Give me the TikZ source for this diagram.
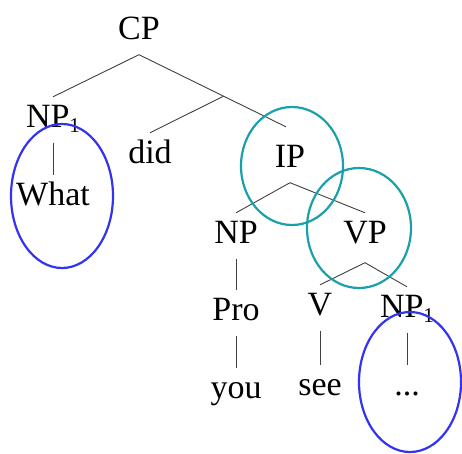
\documentclass[tikz,border=0pt]{standalone}
\usepackage{fontspec}
\setmainfont{Liberation Serif}
\definecolor{ringblue}{RGB}{51,51,240}
\definecolor{ringteal}{RGB}{26,160,170}
\tikzset{
  treenode/.style={anchor=base, inner sep=7pt, text height=23pt, text depth=8.5pt,
    font=\fontsize{34}{40}\selectfont},
  branch/.style={draw=black!75, line width=0.9pt},
  ring/.style={line width=2.2pt}
}
\newcommand{\subone}{\raisebox{-5pt}{\fontsize{21}{21}\selectfont 1}}

\begin{document}
\begin{tikzpicture}[x=1pt, y=-1pt]
\useasboundingbox (0,0) rectangle (462,453);
% Nodes of the tree
\node[treenode] (cp) at (139,39) {CP};
\node[treenode] (np1) at (53,127) {NP\subone};
\node[treenode] (what) at (53,205) {What};
\node[treenode] (did) at (150,163) {did};
\node[treenode] (ip) at (290,167) {IP};
\node[treenode] (np) at (236,243) {NP};
\node[treenode] (vp) at (365,243) {VP};
\node[treenode] (pro) at (236,320) {Pro};
\node[treenode] (you) at (236,398) {you};
\node[treenode] (v) at (320,315) {V};
\node[treenode] (see) at (320,395) {see};
\node[treenode] (np1b) at (407,317) {NP\subone};
\node[treenode] (gap) at (407,395) {...};
% Branches
\draw[branch] (cp.south) -- (np1.north);
\draw[branch] (cp.south) -- coordinate[pos=0.575] (cpmid) ([xshift=-4pt,yshift=10pt]ip.north);
\draw[branch] (cpmid) -- (did.north);
\draw[branch] (np1.south) -- (what.north);
\draw[branch] (ip.south) -- (np.north);
\draw[branch] (ip.south) -- (vp.north);
\draw[branch] (np.south) -- (pro.north);
\draw[branch] (pro.south) -- (you.north);
\draw[branch] ([yshift=-4pt]vp.south) -- (v.north);
\draw[branch] ([yshift=-4pt]vp.south) -- (np1b.north);
\draw[branch] (v.south) -- (see.north);
\draw[branch] (np1b.south) -- (gap.north);
% Rings
\draw[ring, ringblue] (62,196) ellipse [x radius=51pt, y radius=72pt];
\draw[ring, ringteal] (292,166) ellipse [x radius=51pt, y radius=59pt];
\draw[ring, ringteal] (359,228) ellipse [x radius=52pt, y radius=60pt];
\draw[ring, ringblue] (410,382) ellipse [x radius=51pt, y radius=70pt];
\end{tikzpicture}
\end{document}
